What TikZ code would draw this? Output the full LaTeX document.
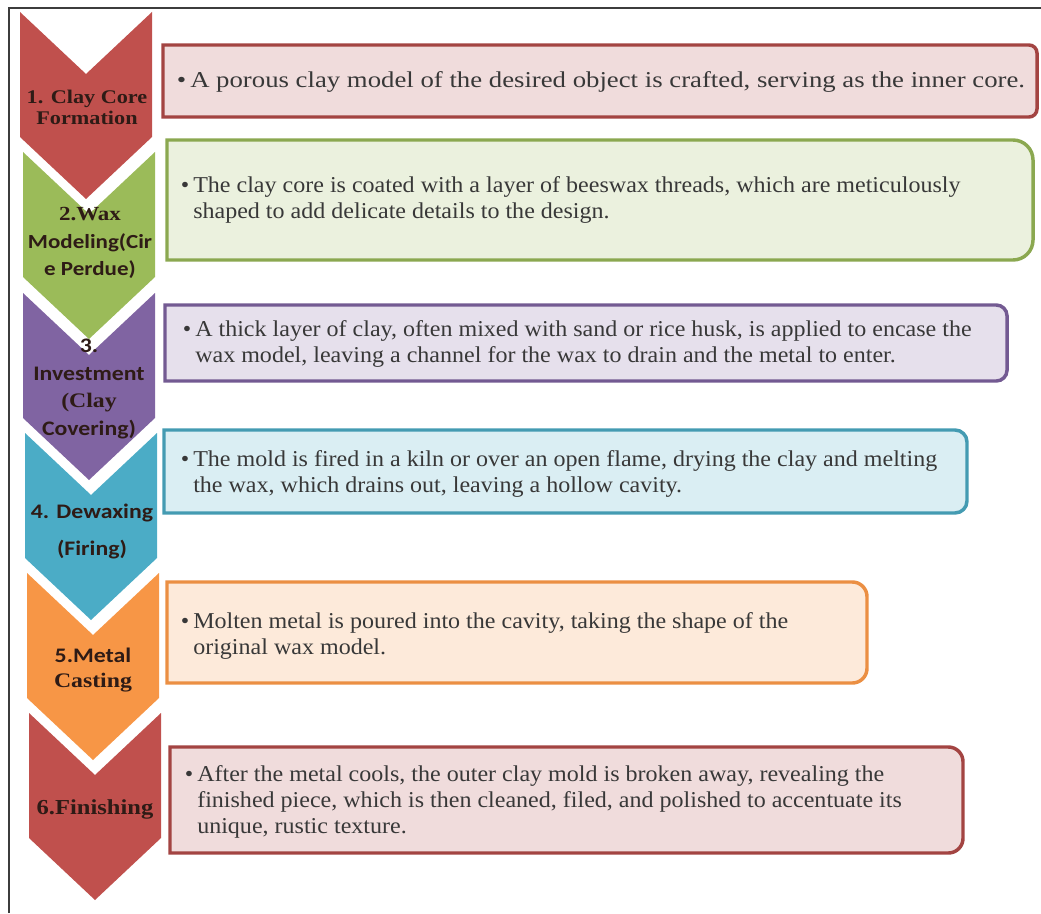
\documentclass[tikz,border=0pt]{standalone}
\usepackage{fontspec}
\setmainfont{Liberation Serif}[FakeStretch=1.06]
\newfontfamily\wideserif{Liberation Serif}[FakeStretch=1.18]
\newfontfamily\labelserif{Liberation Serif}[FakeStretch=1.15]
\newfontfamily\calibri{Carlito}[FakeStretch=1.15]
\usepackage{xcolor}
\usepackage{tikz}

\definecolor{accred}{HTML}{C0504D}
\definecolor{accgreen}{HTML}{9BBB59}
\definecolor{accpurple}{HTML}{8064A2}
\definecolor{accteal}{HTML}{4BACC6}
\definecolor{accorange}{HTML}{F79646}
\definecolor{fillred}{HTML}{F0DCDC}
\definecolor{fillgreen}{HTML}{EBF1DE}
\definecolor{fillpurple}{HTML}{E6E0EC}
\definecolor{fillteal}{HTML}{DAEEF3}
\definecolor{fillorange}{HTML}{FDEADA}
\definecolor{labeltext}{HTML}{2E1B16}
\definecolor{bodytext}{HTML}{383838}
\definecolor{framegray}{HTML}{3C3C3C}

\begin{document}
\begin{tikzpicture}[x=0.75pt, y=-0.75pt,
  chevlabel/.style={align=center, inner sep=0pt, text=labeltext},
  boxtext/.style={anchor=west, align=left, inner sep=0pt, text=bodytext, font=\fontsize{17}{19.5}\selectfont}]
  \useasboundingbox (0,0) rectangle (1041,913);
  \draw[framegray, line width=1.5pt] (9,913) -- (9,8) -- (1041,8);
  % chevrons down the left side
  \fill[accred] (20,12) -- (86,74) -- (152,12) -- (152,137) -- (86,199) -- (20,137) -- cycle;
  \fill[accgreen] (23,152) -- (89,214) -- (155,152) -- (155,277) -- (89,339) -- (23,277) -- cycle;
  \fill[accpurple] (23,293) -- (89,355) -- (155,293) -- (155,418) -- (89,480) -- (23,418) -- cycle;
  \fill[accteal] (25,433) -- (91,495) -- (157,433) -- (157,558) -- (91,620) -- (25,558) -- cycle;
  \fill[accorange] (27,573) -- (93,635) -- (159,573) -- (159,698) -- (93,760) -- (27,698) -- cycle;
  \fill[accred] (29,713) -- (95,775) -- (161,713) -- (161,838) -- (95,900) -- (29,838) -- cycle;
  % boxes, rounded on the right side only
  \draw[accred!85!black, fill=fillred, line width=2.6pt] (600,45) [rounded corners=6pt] -- (1037,45) -- (1037,117) -- (600,117) [sharp corners] -- (163,117) -- (163,45) -- cycle;
  \draw[accgreen!90!black, fill=fillgreen, line width=2.6pt] (600,140) [rounded corners=15pt] -- (1033,140) -- (1033,260) -- (600,260) [sharp corners] -- (167,260) -- (167,140) -- cycle;
  \draw[accpurple!90!black, fill=fillpurple, line width=2.6pt] (600,305) [rounded corners=8pt] -- (1007,305) -- (1007,381) -- (600,381) [sharp corners] -- (165,381) -- (165,305) -- cycle;
  \draw[accteal!90!black, fill=fillteal, line width=2.6pt] (600,430) [rounded corners=9pt] -- (967,430) -- (967,513) -- (600,513) [sharp corners] -- (164,513) -- (164,430) -- cycle;
  \draw[accorange!95!black, fill=fillorange, line width=2.6pt] (500,582) [rounded corners=11pt] -- (867,582) -- (867,683) -- (500,683) [sharp corners] -- (167,683) -- (167,582) -- cycle;
  \draw[accred!85!black, fill=fillred, line width=2.6pt] (600,747) [rounded corners=11pt] -- (963,747) -- (963,853) -- (600,853) [sharp corners] -- (170,853) -- (170,747) -- cycle;
  % step names
  \node[chevlabel, font=\labelserif\bfseries\fontsize{14.5}{15.75}\selectfont] (lbl1) at (87,107) {1. Clay Core\\Formation};
  \node[chevlabel, font=\labelserif\bfseries\fontsize{15}{20.6}\selectfont] (lbl2) at (90,243) {2.Wax\\{\calibri Modeling(Cir}\\{\calibri e Perdue)}};
  \node[chevlabel, font=\labelserif\bfseries\fontsize{15.5}{20.7}\selectfont] (lbl3) at (89,389) {{\calibri 3.}\\{\calibri Investment}\\(Clay\\{\calibri Covering)}};
  \node[chevlabel, font=\calibri\bfseries\fontsize{15.5}{27.75}\selectfont] (lbl4) at (92,531) {4. Dewaxing\\(Firing)};
  \node[chevlabel, font=\labelserif\bfseries\fontsize{15.5}{18.75}\selectfont] (lbl5) at (93,670) {{\calibri 5.Metal}\\Casting};
  \node[chevlabel, font=\labelserif\bfseries\fontsize{16}{19}\selectfont] (lbl6) at (95,809) {6.Finishing};
  % descriptions
  \node[boxtext, font=\wideserif\fontsize{17}{19.5}\selectfont] (txt1) at (190,82) {\llap{•\hspace{3pt}}A porous clay model of the desired object is crafted, serving as the inner core.};
  \node[boxtext] (txt2) at (193,199.5) {\llap{•\hspace{3pt}}The clay core is coated with a layer of beeswax threads, which are meticulously\\shaped to add delicate details to the design.};
  \node[boxtext] (txt3) at (195,344) {\llap{•\hspace{3pt}}A thick layer of clay, often mixed with sand or rice husk, is applied to encase the\\wax model, leaving a channel for the wax to drain and the metal to enter.};
  \node[boxtext] (txt4) at (193,474) {\llap{•\hspace{3pt}}The mold is fired in a kiln or over an open flame, drying the clay and melting\\the wax, which drains out, leaving a hollow cavity.};
  \node[boxtext] (txt5) at (193,635.5) {\llap{•\hspace{3pt}}Molten metal is poured into the cavity, taking the shape of the\\original wax model.};
  \node[boxtext] (txt6) at (197,802) {\llap{•\hspace{3pt}}After the metal cools, the outer clay mold is broken away, revealing the\\finished piece, which is then cleaned, filed, and polished to accentuate its\\unique, rustic texture.};
\end{tikzpicture}
\end{document}
